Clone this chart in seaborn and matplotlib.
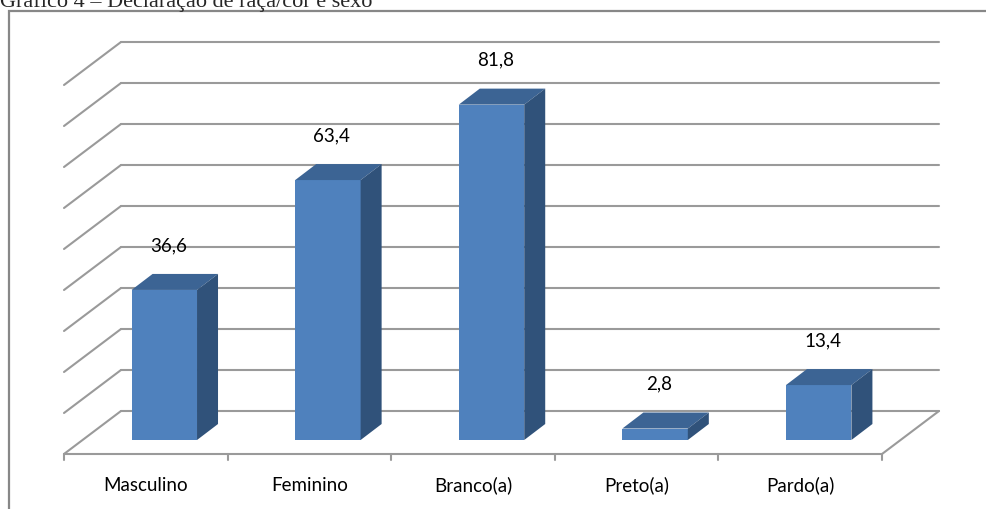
import numpy as np
import matplotlib.pyplot as plt
from matplotlib.patches import Polygon, Rectangle
import seaborn as sns

# dados do gráfico
categorias = ['Masculino', 'Feminino', 'Branco(a)', 'Preto(a)', 'Pardo(a)']
valores = [36.6, 63.4, 81.8, 2.8, 13.4]
rotulos = ['36,6', '63,4', '81,8', '2,8', '13,4']
grade = list(range(0, 100, 10))

sns.set_style('white')
plt.rcParams['font.family'] = ['Lato', 'DejaVu Sans']

fig = plt.figure(figsize=(9.86, 5.10), dpi=100)
W, H = 986, 510
# plano das barras (frente das barras) em pixels
ax = fig.add_axes([82.5 / W, 69 / H, 818 / W, 369 / H])

cor_frente = '#4f81bd'
cor_topo = '#3c6494'
cor_lado = '#30527a'
cor_grade = '#9a9a9a'

# deslocamentos em pixels: parede do fundo, frente do piso, profundidade da barra
fundo = (38.5, 29)
piso = (-18.5, -14)
prof = (21, 16)

sns.barplot(x=categorias, y=valores, color=cor_frente, width=0.4,
            saturation=1, linewidth=0, edgecolor='none', ax=ax, zorder=3)
ax.set_xlim(-0.5, 4.5)
ax.set_ylim(0, 90)
ax.axis('off')


def desloca(x, y, d):
    px = ax.transData.transform((x, y)) + np.array(d)
    return tuple(ax.transData.inverted().transform(px))


# parede do fundo e parede lateral
for v in grade:
    a = desloca(-0.5, v, fundo)
    b = desloca(4.5, v, fundo)
    c = desloca(-0.5, v, piso)
    ax.plot([a[0], b[0]], [a[1], b[1]], color=cor_grade, lw=1.5, clip_on=False, zorder=1)
    ax.plot([c[0], a[0]], [c[1], a[1]], color=cor_grade, lw=1.5, clip_on=False, zorder=1)

# piso
f0 = desloca(-0.5, 0, piso)
f1 = desloca(4.5, 0, piso)
b1 = desloca(4.5, 0, fundo)
ax.plot([f0[0], f1[0], b1[0]], [f0[1], f1[1], b1[1]], color=cor_grade, lw=1.5,
        clip_on=False, zorder=1)
for xt in np.arange(-0.5, 5, 1):
    t0 = desloca(xt, 0, piso)
    t1 = desloca(xt, 0, (piso[0], piso[1] - 6))
    ax.plot([t0[0], t1[0]], [t0[1], t1[1]], color=cor_grade, lw=1.5, clip_on=False, zorder=1)

# rótulos do eixo
for i, nome in enumerate(categorias):
    p = desloca(i, 0, (piso[0], piso[1] - 36))
    ax.text(p[0], p[1], nome, ha='center', va='baseline', fontsize=13.5, color='black')

# faces 3D das barras
for barra, rot in zip(ax.patches, rotulos):
    x0 = barra.get_x()
    x1 = x0 + barra.get_width()
    h = barra.get_height()
    topo = [(x0, h), (x1, h), desloca(x1, h, prof), desloca(x0, h, prof)]
    lado = [(x1, 0), (x1, h), desloca(x1, h, prof), desloca(x1, 0, prof)]
    ax.add_patch(Polygon(topo, closed=True, facecolor=cor_topo, edgecolor='none',
                         clip_on=False, zorder=3))
    ax.add_patch(Polygon(lado, closed=True, facecolor=cor_lado, edgecolor='none',
                         clip_on=False, zorder=3))
    p = desloca((x0 + x1) / 2, h, (4, 40))
    ax.text(p[0], p[1], rot, ha='center', va='baseline', fontsize=13.5, color='black')

# moldura e título
fig.patches.append(Rectangle((9 / W, -0.1), 1.2, (498 / H) + 0.1, transform=fig.transFigure,
                             fill=False, edgecolor='#878787', lw=1.6))
fig.text(0.0, 503 / H, 'Gráfico 4 – Declaração de raça/cor e sexo', fontsize=16,
         family='Liberation Serif', ha='left', va='baseline')

fig.savefig('out.png', dpi=100)
